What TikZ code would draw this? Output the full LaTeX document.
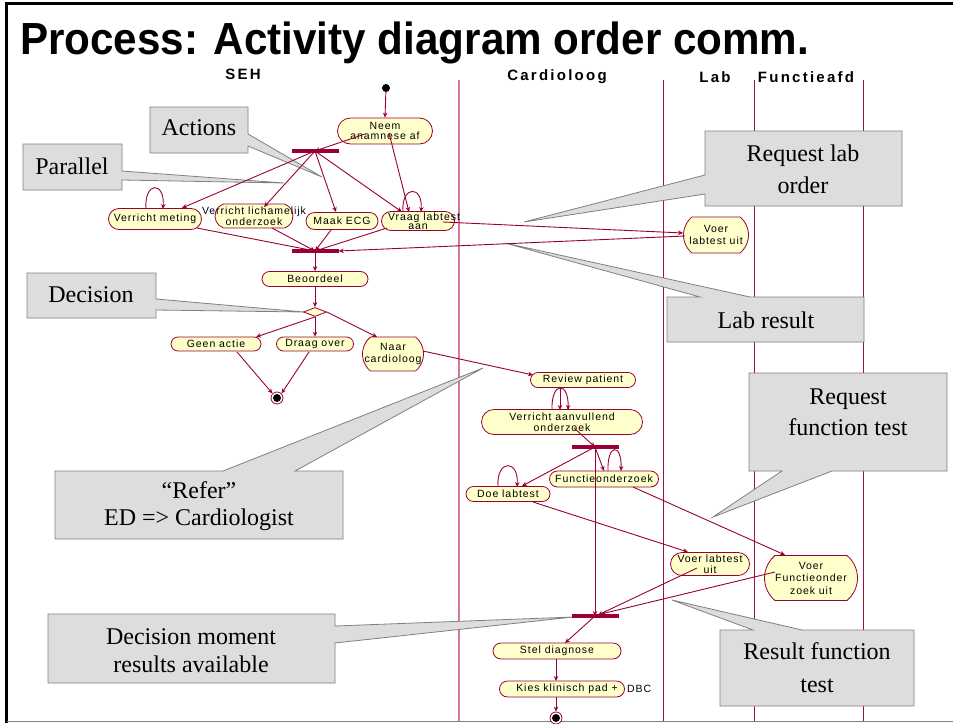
\documentclass[tikz,border=0pt]{standalone}
\usepackage{fontspec}
\usepackage{graphicx}
\usetikzlibrary{shapes.misc,shapes.geometric,arrows.meta,calc}
\setmainfont{Liberation Serif}
\newfontfamily\titlefam{Liberation Sans}
\newfontfamily\actfam[LetterSpace=9]{Liberation Sans}
\newfontfamily\lanefam[LetterSpace=15]{Liberation Sans}
\definecolor{umlred}{RGB}{153,0,51}
\definecolor{actfill}{RGB}{255,255,204}
\definecolor{notefill}{RGB}{221,221,221}
\definecolor{notedraw}{RGB}{128,128,128}
\definecolor{lanepink}{RGB}{212,120,160}
\definecolor{lanered}{RGB}{150,20,70}
\newcommand\zw[1]{\makebox[0pt]{#1}}
\tikzset{
  act/.style={rounded rectangle, draw=umlred, fill=actfill, line width=0.8pt,
    inner sep=0pt, align=center, font=\actfam\fontsize{10.5}{11.5}\selectfont},
  barrel/.style={act, rounded rectangle arc length=100},
  flow/.style={draw=umlred, line width=0.9pt, -{Stealth[length=5pt,width=4.5pt]}},
  loopline/.style={flow},
  syncbar/.style={rectangle, fill=umlred, draw=none, minimum width=47pt,
    minimum height=3.2pt, inner sep=0pt},
  note/.style={fill=notefill, draw=notedraw, line width=0.8pt},
  notetext/.style={font=\fontsize{24}{30}\selectfont, align=center, inner sep=0pt},
  laneline/.style={draw=lanered, line width=0.8pt},
  lanelabel/.style={font=\lanefam\bfseries\fontsize{15}{15}\selectfont, inner sep=0pt}
}
\begin{document}
\begin{tikzpicture}[x=1pt,y=-1pt]
\useasboundingbox (0,0) rectangle (953,723);
\fill[white] (0,0) rectangle (953,723);

% frame
\draw[black, line width=3pt] (6.5,723) -- (6.5,3) -- (953,3);
\draw[gray, line width=1pt] (6.5,721.5) -- (953,721.5);

% title
\node[anchor=base west, inner sep=0pt, font=\titlefam\bfseries\fontsize{45}{45}\selectfont]
  (title) at (20,54) {\scalebox{0.937}[1]{Process: Activity diagram order comm.}};

% swimlanes
\draw[draw=lanepink, line width=1.2pt] (459,80) -- (459,721);
\draw[laneline] (663,80) -- (663,721);
\draw[laneline] (754,80) -- (754,721);
\draw[laneline] (863,80) -- (863,721);
\node[lanelabel] (lseh) at (243,74) {SEH};
\node[lanelabel] (lcar) at (557,77) {Cardioloog};
\node[lanelabel] (llab) at (715,77) {Lab};
\node[lanelabel] (lfun) at (806,77) {Functieafd};

% callouts (drawn below the flow)
\draw[note] (150,107) -- (248,107) -- (248,134) -- (322,177) -- (248,146) -- (248,153) -- (150,153) -- cycle;
\node[notetext] (nactions) at (199,128) {Actions};
\draw[note] (23,144) -- (122,144) -- (122,171) -- (284,183) -- (122,180) -- (122,190) -- (23,190) -- cycle;
\node[notetext] (nparallel) at (72,166) {Parallel};
\draw[note] (27,273) -- (156,273) -- (156,299) -- (304,312) -- (156,310) -- (156,318) -- (27,318) -- cycle;
\node[notetext] (ndecision) at (91,295) {Decision};
\draw[note] (705,131) -- (902,131) -- (902,206) -- (705,206) -- (705,194) -- (524,222) -- (705,175) -- cycle;
\node[notetext, font=\fontsize{24}{32}\selectfont] (nlaborder) at (803,169) {Request lab\\order};
\draw[note] (667,297) -- (700,297) -- (505,243) -- (750,297) -- (864,297) -- (864,342) -- (667,342) -- cycle;
\node[notetext] (nlabresult) at (766,320) {Lab result};
\draw[note] (749,373) -- (947,373) -- (947,471) -- (832,471) -- (713,517) -- (782,471) -- (749,471) -- cycle;
\node[notetext, font=\fontsize{24}{31}\selectfont] (nfunctest) at (848,412) {Request\\function test};
\draw[note] (55,471) -- (223,471) -- (483,368) -- (295,471) -- (343,471) -- (343,539) -- (55,539) -- cycle;
\node[notetext, font=\fontsize{24}{27}\selectfont] (nrefer) at (199,506) {“Refer”\\ED => Cardiologist};
\draw[note] (48,614) -- (335,614) -- (335,626) -- (573,617) -- (335,643) -- (335,683) -- (48,683) -- cycle;
\node[notetext, font=\fontsize{24}{28}\selectfont] (ndecmom) at (191,651) {Decision moment\\results available};
\draw[note] (720,630) -- (753,630) -- (672,600) -- (802,630) -- (914,630) -- (914,706) -- (720,706) -- cycle;
\node[notetext, font=\fontsize{24}{33}\selectfont] (nresfunc) at (817,668) {Result function\\test};

% --- SEH lane ---
\node[circle, fill=black, minimum size=8pt, inner sep=0pt] (start) at (386,88) {};
\node[act, minimum width=95pt, minimum height=26pt, font=\actfam\fontsize{10.5}{9.5}\selectfont]
  (neem) at (385,131) {\zw{Neem}\\\zw{anamnese af}};
\node[syncbar] (bar1) at (315,151) {};
\node[act, minimum width=93pt, minimum height=21pt] (meting) at (155,219) {\zw{Verricht meting}};
\node[act, rounded rectangle arc length=140, minimum width=78pt, minimum height=24pt,
  font=\actfam\fontsize{10.5}{9.5}\selectfont] (lich) at (254,216) {\zw{Verricht lichamelijk}\\\zw{onderzoek}};
\node[act, minimum width=72pt, minimum height=17pt] (ecg) at (342,221) {\zw{Maak ECG}};
\node[act, minimum width=73pt, minimum height=19pt, font=\actfam\fontsize{10.5}{9.5}\selectfont]
  (vraag) at (418,221) {\zw{\hspace{12pt}Vraag labtest}\\\zw{aan}};
\node[syncbar] (bar2) at (315,251) {};
\node[act, minimum width=106pt, minimum height=15pt] (beoord) at (315,279) {\zw{Beoordeel}};
\node[diamond, draw=umlred, fill=actfill, line width=0.8pt, minimum width=23pt,
  minimum height=9pt, inner sep=0pt] (dec) at (315,312) {};
\node[act, minimum width=90pt, minimum height=14pt] (geen) at (216,344) {\zw{Geen actie}};
\node[act, minimum width=77pt, minimum height=14pt] (draag) at (315,344) {\zw{Draag over}};
\node[barrel, minimum width=61pt, minimum height=34pt] (naar) at (393,354) {\zw{Naar}\\\zw{cardioloog}};
\node[circle, draw=umlred, fill=white, line width=0.8pt, minimum size=12pt, inner sep=0pt] (end1) at (277,398) {};
\fill[black] (end1.center) circle (4pt);

% --- Lab lane ---
\node[barrel, minimum width=65pt, minimum height=36pt] (voerlab) at (716,235) {\zw{Voer}\\\zw{labtest uit}};

% --- Cardioloog lane ---
\node[act, minimum width=105pt, minimum height=15pt] (review) at (583,380) {\zw{Review patient}};
\node[act, minimum width=161pt, minimum height=25pt] (aanv) at (562,422) {\zw{Verricht aanvullend}\\\zw{onderzoek}};
\node[syncbar] (bar3) at (595,447) {};
\node[act, minimum width=84pt, minimum height=15pt] (doe) at (508,494) {\zw{Doe labtest}};
\node[act, minimum width=109pt, minimum height=16pt] (func) at (604,479) {\zw{Functieonderzoek}};
\node[act, minimum width=79pt, minimum height=23pt] (voerlab2) at (710,564) {\zw{Voer labtest}\\\zw{uit}};
\node[barrel, minimum width=93pt, minimum height=45pt, font=\actfam\fontsize{10.5}{12.5}\selectfont]
  (voerfunc) at (811,578) {\zw{Voer}\\\zw{Functieonder}\\\zw{zoek uit}};
\node[syncbar] (bar4) at (595,616) {};
\node[act, minimum width=128pt, minimum height=16pt] (stel) at (557,651) {\zw{Stel diagnose}};
\node[act, minimum width=125pt, minimum height=16pt] (kies) at (562,689) {\zw{\hspace{10pt}Kies klinisch pad +}};
\node[anchor=west, inner sep=0pt, font=\actfam\fontsize{10.5}{10.5}\selectfont] (dbc) at (627,689) {DBC};
\node[circle, draw=umlred, fill=white, line width=0.8pt, minimum size=12pt, inner sep=0pt] (end2) at (556,718) {};
\fill[black] (end2.center) circle (4pt);

% --- flows, SEH ---
\draw[flow] (start) -- (neem.north);
\draw[flow] ($(neem)+(-20,3)$) -- (bar1.center);
\draw[flow] ($(neem)+(4,2)$) -- ($(vraag)+(-9,-9)$);
\draw[flow] (bar1.center) -- ($(meting)+(27,-11)$);
\draw[flow] (bar1.center) -- ($(lich)+(10,-9)$);
\draw[flow] (bar1.center) -- ($(ecg)+(-6,-9)$);
\draw[flow] (bar1.center) -- ($(vraag)+(-16,-9)$);
\draw[loopline] ($(meting)+(-9,-10)$) .. controls ($(meting)+(-11,-38)$) and ($(meting)+(10,-38)$) .. ($(meting)+(8,-10)$);
\draw[loopline] ($(vraag)+(-15,-9)$) .. controls ($(vraag)+(-17,-36)$) and ($(vraag)+(5,-36)$) .. ($(vraag)+(3,-9)$);
\draw[flow] ($(meting)+(42,9)$) -- (bar2.center);
\draw[flow] ($(lich)+(18,12)$) -- (bar2.center);
\draw[flow] ($(ecg)+(-11,9)$) -- (bar2.center);
\draw[flow] ($(vraag)+(-31,7)$) -- (bar2.center);
\draw[flow] ($(vraag)+(25,1)$) -- ($(voerlab)+(-33,-2)$);
\draw[flow] ($(voerlab)+(-31,1)$) -- (bar2.east);
\draw[flow] (bar2.center) -- (beoord.north);
\draw[flow] (beoord.south) -- (dec.north);
\draw[flow] (dec.south) -- ($(geen)+(40,-7)$);
\draw[flow] (dec.south) -- (draag.north);
\draw[flow] (dec.east) -- ($(naar)+(-16,-17)$);
\draw[flow] ($(geen)+(21,8)$) -- (end1.north west);
\draw[flow] ($(draag)+(-6,8)$) -- (end1.north east);
\draw[flow] ($(naar)+(30,-3)$) -- ($(review)+(-50,-5)$);

% --- flows, Cardioloog ---
\draw[flow] ($(review)+(-23,8)$) -- ($(aanv)+(-2,-12)$);
\draw[loopline] ($(aanv)+(-10,-12)$) .. controls ($(aanv)+(-11,-41)$) and ($(aanv)+(7,-41)$) .. ($(aanv)+(6,-12)$);
\draw[flow] ($(aanv)+(12,6)$) -- (bar3.center);
\draw[flow] (bar3.center) -- ($(doe)+(14,-8)$);
\draw[flow] (bar3.center) -- ($(func)+(0,-8)$);
\draw[loopline] ($(func)+(4,-8)$) .. controls ($(func)+(3,-36)$) and ($(func)+(18,-36)$) .. ($(func)+(17,-8)$);
\draw[loopline] ($(doe)+(-10,-7)$) .. controls ($(doe)+(-12,-35)$) and ($(doe)+(11,-35)$) .. ($(doe)+(9,-7)$);
\draw[flow, line width=0.7pt] (bar3.center) -- (bar4.center);
\draw[flow] ($(doe)+(25,8)$) -- ($(voerlab2)+(-22,-12)$);
\draw[flow] ($(func)+(29,8)$) -- ($(voerfunc)+(-26,-23)$);
\draw[flow] ($(voerlab2)+(-13,4)$) -- ($(bar4)+(3,-1)$);
\draw[flow] ($(voerfunc)+(-36,-6)$) -- ($(bar4)+(6,-2)$);
\draw[flow] (bar4.center) -- ($(stel)+(8,-8)$);
\draw[flow] ($(stel)+(-1,8)$) -- ($(kies)+(-6,-8)$);
\draw[flow] ($(kies)+(-6,8)$) -- (end2.north);
\end{tikzpicture}
\end{document}
